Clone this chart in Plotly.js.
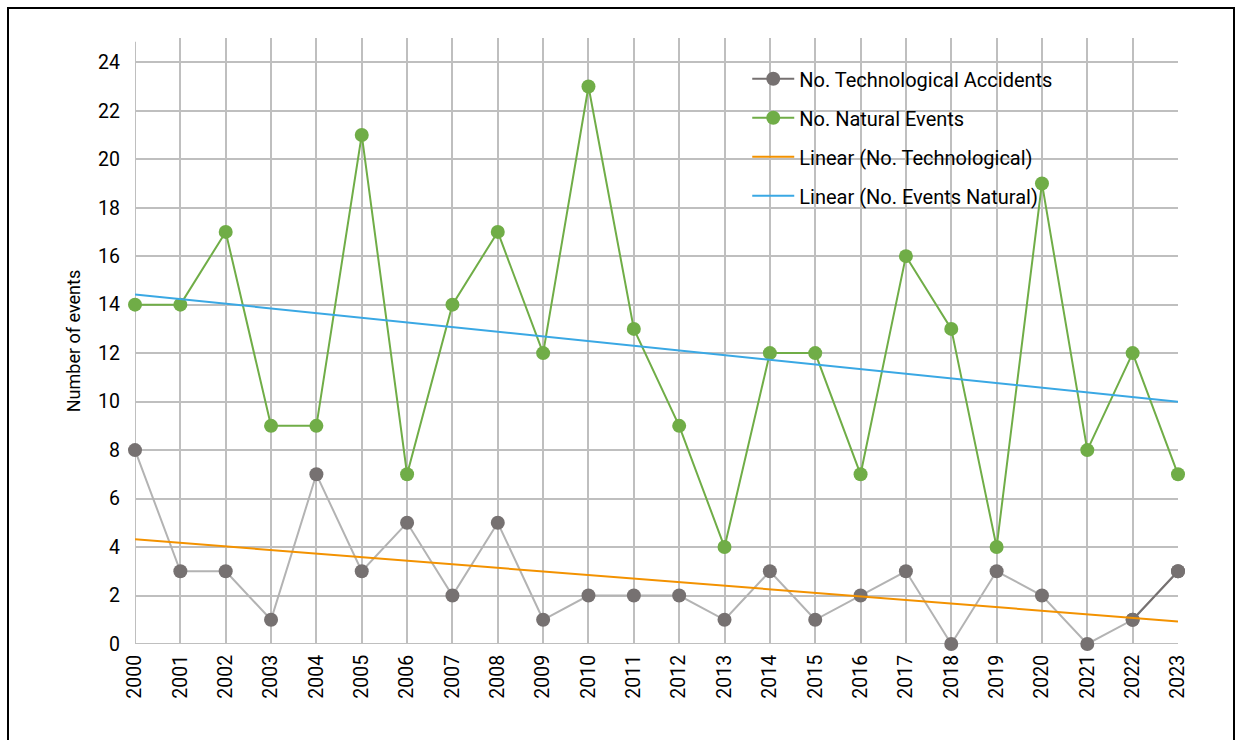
<!DOCTYPE html>
<html>
<head>
<meta charset="utf-8">
<script src="https://cdn.plot.ly/plotly-3.0.1.min.js"></script>
<style>
  html, body { margin: 0; padding: 0; background: #fff; overflow: hidden; }
  #chart { position: absolute; left: 0; top: 0; width: 1239px; height: 740px; }
  #frame { position: absolute; left: 7px; top: 7px; width: 1228px; height: 760px; border: 2px solid #000; pointer-events: none; box-sizing: border-box; }
</style>
</head>
<body>
<div id="chart"></div>
<div id="frame"></div>
<script>
const years = [2000,2001,2002,2003,2004,2005,2006,2007,2008,2009,2010,2011,2012,2013,2014,2015,2016,2017,2018,2019,2020,2021,2022,2023];
const technological = [8,3,3,1,7,3,5,2,5,1,2,2,2,1,3,1,2,3,0,3,2,0,1,3];
const natural = [14,14,17,9,9,21,7,14,17,12,23,13,9,4,12,12,7,16,13,4,19,8,12,7];
const yTicks = [0,2,4,6,8,10,12,14,16,18,20,22,24];

function linearFit(xs, ys) {
  const n = xs.length;
  const idx = xs.map((_, i) => i + 1);
  const mx = idx.reduce((a, b) => a + b, 0) / n;
  const my = ys.reduce((a, b) => a + b, 0) / n;
  let sxy = 0, sxx = 0;
  for (let i = 0; i < n; i++) { sxy += (idx[i] - mx) * (ys[i] - my); sxx += (idx[i] - mx) ** 2; }
  const b = sxy / sxx, a = my - b * mx;
  return [a + b * idx[0], a + b * idx[n - 1]];
}
const techFit = linearFit(years, technological);
const natFit = linearFit(years, natural);
const fitX = [years[0], years[years.length - 1]];

const FONT = 'Roboto, "Open Sans", Arial, sans-serif';
const darkGrey = '#767171';

const traces = [
  { x: years, y: technological, mode: 'lines+markers', showlegend: false,
    line: { color: '#b3b3b3', width: 2 }, marker: { color: darkGrey, size: 14 }, cliponaxis: false, hoverinfo: 'x+y' },
  { x: years.slice(-2), y: technological.slice(-2), mode: 'lines+markers', name: 'No. Technological Accidents',
    legendgroup: 'a', legendrank: 1,
    line: { color: darkGrey, width: 2 }, marker: { color: darkGrey, size: 14 }, cliponaxis: false },
  { x: years, y: natural, mode: 'lines+markers', name: 'No. Natural Events', legendgroup: 'b', legendrank: 2,
    line: { color: '#70ad47', width: 2 }, marker: { color: '#70ad47', size: 14 }, cliponaxis: false },
  { x: fitX, y: techFit, mode: 'lines', name: 'Linear (No. Technological)', legendgroup: 'c', legendrank: 3,
    line: { color: '#f39200', width: 2 }, hoverinfo: 'skip' },
  { x: fitX, y: natFit, mode: 'lines', name: 'Linear (No. Events Natural)', legendgroup: 'd', legendrank: 4,
    line: { color: '#3aa8e4', width: 2 }, hoverinfo: 'skip' }
];

const layout = {
  width: 1239, height: 740,
  margin: { l: 135, r: 61, t: 38, b: 96 },
  paper_bgcolor: '#fff', plot_bgcolor: '#fff',
  font: { family: FONT, size: 20, color: '#000' },
  showlegend: true,
  legend: { x: 0.587, y: 0.965, xanchor: 'left', yanchor: 'top', bgcolor: 'rgba(0,0,0,0)',
    font: { family: FONT, size: 20, color: '#000' }, traceorder: 'grouped', tracegroupgap: 10, itemwidth: 42 },
  xaxis: {
    range: [2000, 2023], tickmode: 'array', tickvals: years, ticktext: years.map(String),
    tickangle: -90, showgrid: true, gridcolor: '#bfbfbf', gridwidth: 2,
    showline: false, zeroline: false, ticks: '', ticklabelstandoff: 6,
    tickfont: { family: FONT, size: 19.5, color: '#000' }
  },
  yaxis: {
    range: [0, 25], tickmode: 'array', tickvals: yTicks, ticktext: yTicks.map(String),
    showgrid: true, gridcolor: '#bfbfbf', gridwidth: 2, zeroline: false, showline: false,
    ticks: '', ticklabelstandoff: 14,
    tickfont: { family: FONT, size: 19.5, color: '#000' },
    title: { text: 'Number of events', font: { family: FONT, size: 18, color: '#000' }, standoff: 12 }
  },
  shapes: [
    { type: 'line', xref: 'x', yref: 'y', x0: 2000, x1: 2023, y0: 0, y1: 0, line: { color: '#bfbfbf', width: 2 }, layer: 'below' },
    { type: 'line', xref: 'x', yref: 'y', x0: 2000, x1: 2000, y0: 0, y1: 24.85, line: { color: '#bfbfbf', width: 2 }, layer: 'below' }
  ]
};

Plotly.newPlot('chart', traces, layout, { displayModeBar: false, staticPlot: true });
</script>
</body>
</html>
